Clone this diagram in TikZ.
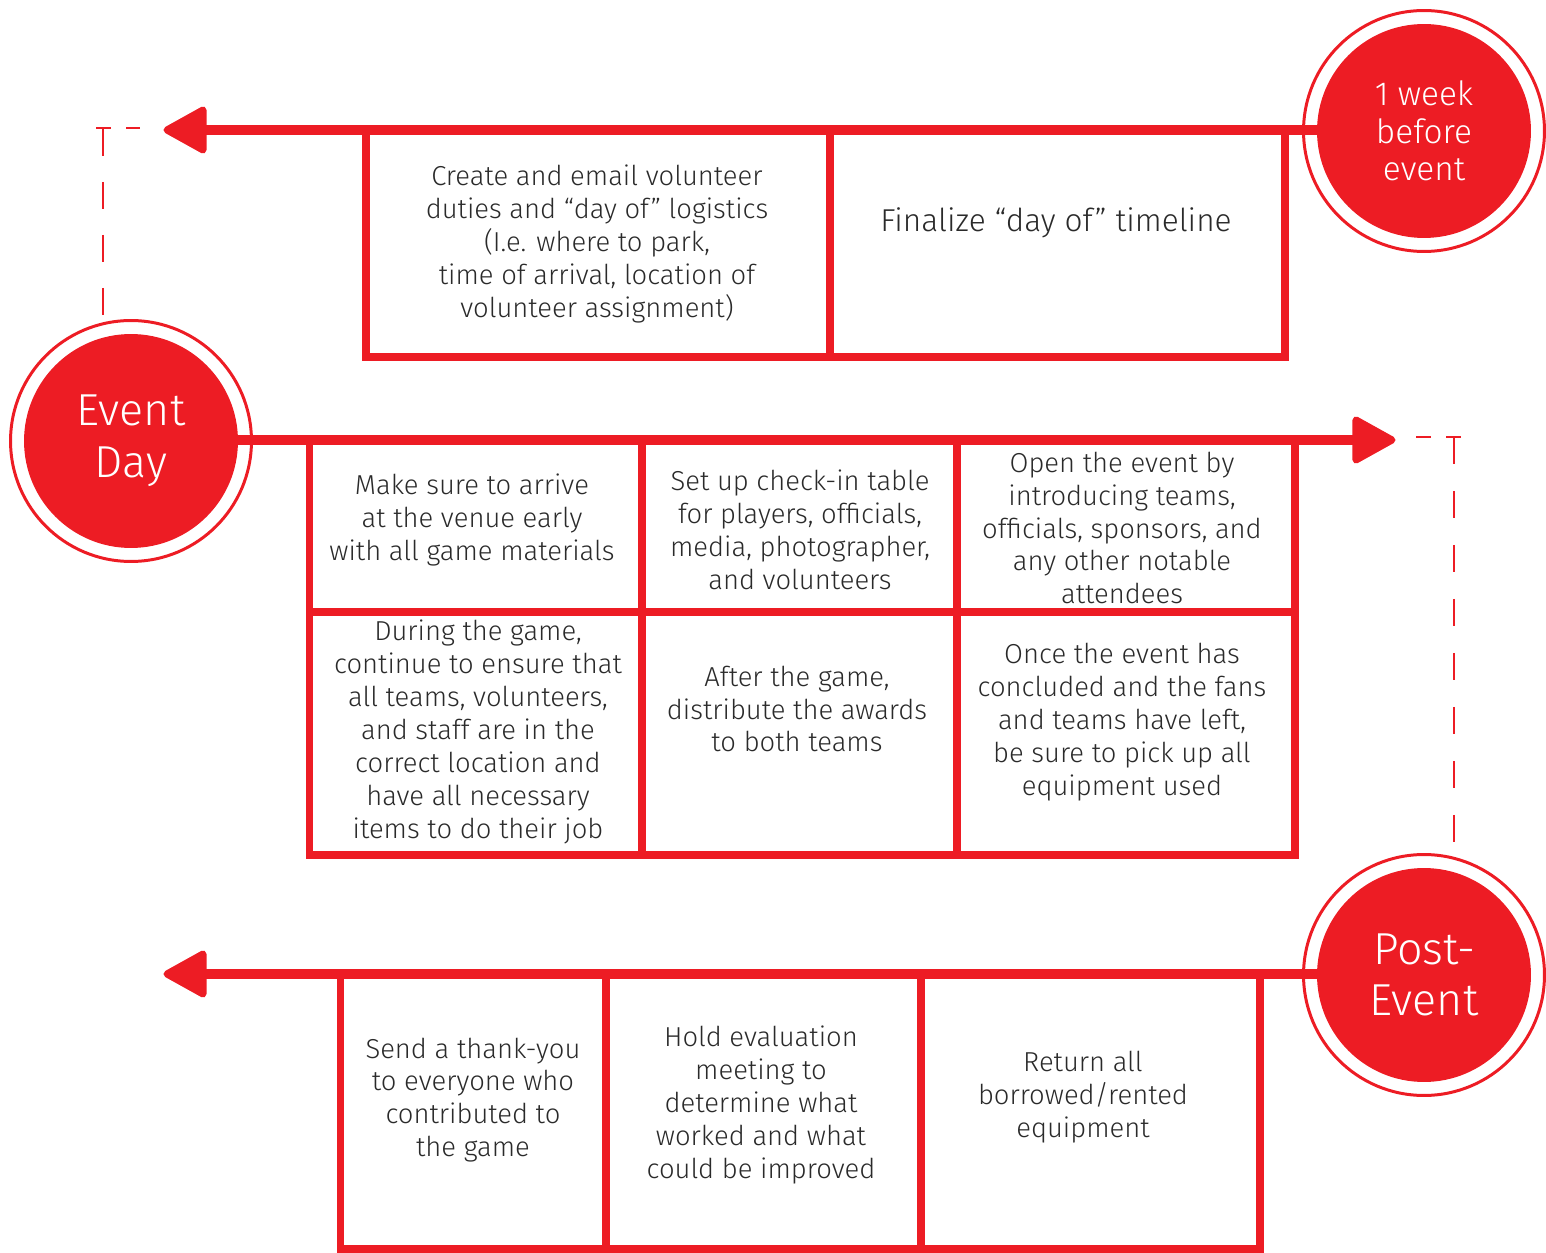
\documentclass[tikz,border=0pt]{standalone}
\usepackage{fontspec}
\setmainfont{Fira Sans Light}
\definecolor{rd}{HTML}{ED1C24}
\definecolor{tx}{HTML}{2A2A2A}
\tikzset{
  mainline/.style={draw=rd, line width=5.67pt},
  cellbox/.style={draw=rd, line width=4.4pt},
  ringline/.style={draw=rd, line width=1.7pt},
  dashline/.style={draw=rd, line width=1.6pt},
  arrowhd/.style={fill=rd, draw=rd, line width=4pt, line join=round},
  stage/.style={circle, fill=rd, text=white, minimum size=4.28cm, inner sep=0pt, align=center},
  txt/.style={text=tx, align=center, inner sep=0pt, font=\fontsize{15.6}{18.7}\selectfont},
}
\begin{document}
\begin{tikzpicture}[x=0.02cm, y=-0.02cm]
\useasboundingbox (0,0) rectangle (1546,1253);

% stage circles
\node[stage, font=\fontsize{19}{21.5}\selectfont] (wk) at (1424,131) {1 week\\before\\event};
\node[stage, font=\fontsize{25.5}{29.5}\selectfont] (ed) at (131,441) {Event\\Day};
\node[stage, font=\fontsize{25.5}{29}\selectfont] (pe) at (1424,975) {Post-\\Event};
\draw[ringline] (wk.center) circle[radius=2.41cm];
\draw[ringline] (ed.center) circle[radius=2.41cm];
\draw[ringline] (pe.center) circle[radius=2.41cm];

% arrow coordinates
\coordinate (t1) at (203,130);
\coordinate (t2) at (1356,440);
\coordinate (t3) at (203,974);

% boxes
\draw[cellbox] (366,131) rectangle (1285,357);
\draw[cellbox] (830,131) -- (830,357);

\draw[cellbox] (309.5,440) rectangle (1295,855);
\draw[cellbox] (642,440) -- (642,855);
\draw[cellbox] (957,440) -- (957,855);
\draw[cellbox] (309.5,612) -- (1295,612);

\draw[cellbox] (340.5,974) rectangle (1260,1249);
\draw[cellbox] (606,974) -- (606,1249);
\draw[cellbox] (921,974) -- (921,1249);

% main lines and arrowheads
\draw[mainline] (wk.west |- t1) -- (t1);
\filldraw[arrowhd] (167,130) -- (203,110) -- (203,150) -- cycle;
\draw[mainline] (ed.east |- t2) -- (t2);
\filldraw[arrowhd] (1392,440) -- (1356,420) -- (1356,460) -- cycle;
\draw[mainline] (pe.west |- t3) -- (t3);
\filldraw[arrowhd] (167,974) -- (203,954) -- (203,994) -- cycle;

% dashed connectors
\coordinate (dl) at (103,316);
\coordinate (dr) at (1454,842);
\draw[dashline] (96,128) -- (111,128);
\draw[dashline] (126,128) -- (140,128);
\draw[dashline, dash pattern=on 0.54cm off 0.52cm] (103,129) -- (dl);
\draw[dashline] (1416,437) -- (1431,437);
\draw[dashline] (1446,437) -- (1461,437);
\draw[dashline, dash pattern=on 0.54cm off 0.54cm] (1454,437) -- (dr);

% texts
\node[txt] (a1) at (597,244) {Create and email volunteer\\duties and “day of” logistics\\(I.e. where to park,\\time of arrival, location of\\volunteer assignment)};
\node[txt, font=\fontsize{18}{20}\selectfont] (a2) at (1056,223) {Finalize “day of” timeline};

\node[txt] (b1) at (472,520) {Make sure to arrive\\at the venue early\\with all game materials};
\node[txt] (b2) at (800,530) {Set up check-in table\\for players, officials,\\media, photographer,\\and volunteers};
\node[txt] (b3) at (1122,528) {Open the event by\\introducing teams,\\officials, sponsors, and\\any other notable\\attendees};
\node[txt] (b4) at (478,732) {During the game,\\continue to ensure that\\all teams, volunteers,\\and staff are in the\\correct location and\\have all necessary\\items to do their job};
\node[txt] (b5) at (797,709) {After the game,\\distribute the awards\\to both teams};
\node[txt] (b6) at (1122,722) {Once the event has\\concluded and the fans\\and teams have left,\\be sure to pick up all\\equipment used};

\node[txt] (c1) at (473,1100) {Send a thank-you\\to everyone who\\contributed to\\the game};
\node[txt] (c2) at (761,1105) {Hold evaluation\\meeting to\\determine what\\worked and what\\could be improved};
\node[txt] (c3) at (1083,1097) {Return all\\borrowed/rented\\equipment};
\end{tikzpicture}
\end{document}
